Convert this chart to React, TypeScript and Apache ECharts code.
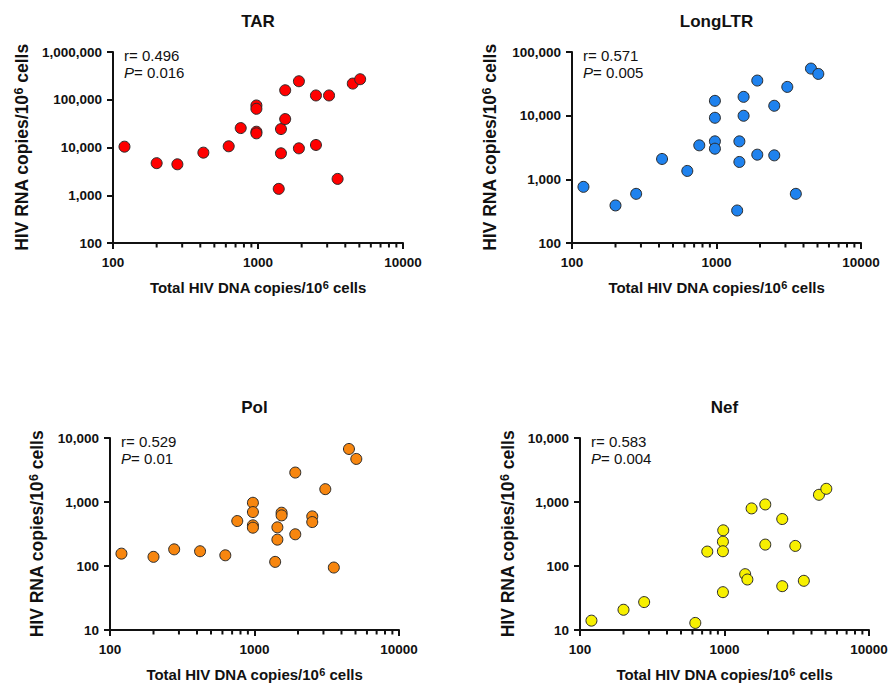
import React, { useEffect, useRef } from "react";
import * as echarts from "echarts";

// ---- Data ----
const tarDna = [120, 200, 278, 420, 628, 760, 975, 975, 975, 975, 1390, 1440, 1440, 1540, 1540, 1915, 1915, 2510, 2510, 3090, 3540, 4505, 5065];
const tarRna = [10400, 4700, 4450, 7800, 10600, 25500, 75900, 64600, 21400, 19800, 1360, 24300, 7560, 39400, 158000, 244000, 9600, 123000, 11300, 123000, 2200, 218000, 269000];

const ltrDna = [120, 200, 278, 420, 628, 760, 975, 975, 975, 975, 1390, 1440, 1440, 1540, 1540, 1915, 1915, 2510, 2510, 3090, 3540, 4505, 5065];
const ltrRna = [762, 389, 592, 2090, 1355, 3420, 17100, 9270, 3950, 3030, 324, 3950, 1875, 19750, 9960, 35600, 2440, 14300, 2380, 28300, 592, 54900, 45300];

const polDna = [120, 200, 278, 420, 628, 760, 975, 975, 975, 975, 1390, 1440, 1440, 1540, 1540, 1915, 1915, 2510, 2510, 3090, 3540, 4505, 5065];
const polRna = [156, 139, 182, 170, 147, 504, 973, 696, 432, 397, 116, 402, 258, 680, 618, 2885, 313, 596, 486, 1588, 94.6, 6740, 4710];

const nefDna = [120, 200, 278, 628, 760, 980, 975, 975, 975, 1390, 1440, 1540, 1915, 1915, 2510, 2510, 3090, 3540, 4505, 5065];
const nefRna = [14, 20.7, 27.3, 12.9, 168, 361, 240, 170, 39, 74.5, 61.5, 794, 916, 216, 542, 48.4, 206, 58.7, 1296, 1607];

const panelTitles = ["TAR", "LongLTR", "Pol", "Nef"];
const rValues = ["0.496", "0.571", "0.529", "0.583"];
const pValues = ["0.016", "0.005", "0.01", "0.004"];
const yMins = [100, 100, 10, 10];
const yMaxs = [1000000, 100000, 10000, 10000];
const xMin = 100;
const xMax = 10000;
const xMinorTicks = [200, 300, 400, 500, 600, 700, 800, 900, 2000, 3000, 4000, 5000, 6000, 7000, 8000, 9000];

const xAxisName = "Total HIV DNA copies/10{sup|6} cells";
const yAxisName = "HIV RNA copies/10{sup|6} cells";

// ---- Styling / layout ----
const colors = ["#FF0000", "#1F82EE", "#F7860F", "#F7F000"];
const grids = [
  { left: 113, top: 52, width: 290, height: 191 },
  { left: 572, top: 52, width: 289, height: 191 },
  { left: 110, top: 438, width: 289, height: 194 },
  { left: 580, top: 438, width: 289, height: 194 },
];
const yNameGaps = [81, 72, 63, 62];
const FONT = "'Liberation Sans', Arial, Helvetica, sans-serif";

export default function App() {
  const ref = useRef<HTMLDivElement>(null);

  useEffect(() => {
    if (!ref.current) return;
    const chart = echarts.init(ref.current, null, { renderer: "svg" });

    const dnaSets = [tarDna, ltrDna, polDna, nefDna];
    const rnaSets = [tarRna, ltrRna, polRna, nefRna];

    const axisLine = { show: true, onZero: false, lineStyle: { color: "#111", width: 2 } };
    const axisTick = { show: true, length: 6, lineStyle: { color: "#111", width: 2 } };

    const xAxes = grids.map((_, i) => ({
      type: "log",
      logBase: 10,
      gridIndex: i,
      min: xMin,
      max: xMax,
      axisLine,
      axisTick,
      splitLine: { show: false },
      axisLabel: {
        margin: 12,
        color: "#111",
        fontWeight: "bold",
        fontSize: 13.5,
        fontFamily: FONT,
        formatter: (v: number) => String(Math.round(v)),
      },
      name: xAxisName,
      nameLocation: "middle",
      nameGap: 36,
      nameTextStyle: {
        color: "#111",
        fontWeight: "bold",
        fontSize: 15,
        fontFamily: FONT,
        lineHeight: 17,
        rich: {
          sup: { fontSize: 11, fontWeight: "bold", fontFamily: FONT, color: "#111", verticalAlign: "top", lineHeight: 11 },
        },
      },
    }));

    const yAxes = grids.map((_, i) => ({
      type: "log",
      logBase: 10,
      gridIndex: i,
      min: yMins[i],
      max: yMaxs[i],
      axisLine,
      axisTick,
      splitLine: { show: false },
      axisLabel: {
        margin: 11,
        color: "#111",
        fontWeight: "bold",
        fontSize: 13.5,
        fontFamily: FONT,
        formatter: (v: number) => Math.round(v).toLocaleString("en-US"),
      },
      name: yAxisName,
      nameLocation: "middle",
      nameRotate: 90,
      nameGap: yNameGaps[i],
      nameTextStyle: {
        color: "#111",
        fontWeight: "bold",
        fontSize: 17.5,
        fontFamily: FONT,
        lineHeight: 20,
        rich: {
          sup: { fontSize: 12.5, fontWeight: "bold", fontFamily: FONT, color: "#111", verticalAlign: "top", lineHeight: 12.5 },
        },
      },
    }));

    const series: any[] = [];
    grids.forEach((_, i) => {
      // minor ticks of the log x axis
      series.push({
        type: "custom",
        coordinateSystem: "cartesian2d",
        xAxisIndex: i,
        yAxisIndex: i,
        silent: true,
        clip: false,
        data: xMinorTicks.map((v) => [v, yMins[i]]),
        renderItem: (params: any, api: any) => {
          const p = api.coord([api.value(0), api.value(1)]);
          return {
            type: "line",
            shape: { x1: p[0], y1: p[1], x2: p[0], y2: p[1] + 4.5 },
            style: { stroke: "#111", lineWidth: 2 },
          };
        },
        z: 5,
      });
      series.push({
        type: "scatter",
        name: panelTitles[i],
        xAxisIndex: i,
        yAxisIndex: i,
        clip: false,
        symbol: "circle",
        symbolSize: 11,
        itemStyle: { color: colors[i], opacity: 1, borderColor: "#2a2a2a", borderWidth: 1 },
        data: dnaSets[i].map((x, k) => [x, rnaSets[i][k]]),
        z: 3,
      });
    });

    const graphic: any[] = [];
    grids.forEach((g, i) => {
      graphic.push({
        type: "text",
        x: g.left + g.width / 2,
        y: g.top - 39,
        style: {
          text: panelTitles[i],
          align: "center",
          verticalAlign: "top",
          font: `bold 17px ${FONT}`,
          fill: "#111",
        },
      });
      graphic.push({
        type: "text",
        x: g.left + 11,
        y: g.top - 5,
        style: {
          text: `r= ${rValues[i]}\n{i|P}= ${pValues[i]}`,
          align: "left",
          verticalAlign: "top",
          font: `15px ${FONT}`,
          fill: "#111",
          lineHeight: 17,
          rich: {
            i: { fontStyle: "italic", fontSize: 15, fontFamily: FONT, fill: "#111", lineHeight: 17 },
          },
        },
      });
    });

    chart.setOption({
      animation: false,
      backgroundColor: "#fff",
      grid: grids.map((g) => ({ ...g, containLabel: false })),
      xAxis: xAxes,
      yAxis: yAxes,
      series,
      graphic,
    });

    return () => chart.dispose();
  }, []);

  return (
    <div
      ref={ref}
      style={{ position: "fixed", left: 0, top: 0, width: 892, height: 684, background: "#fff" }}
    />
  );
}
